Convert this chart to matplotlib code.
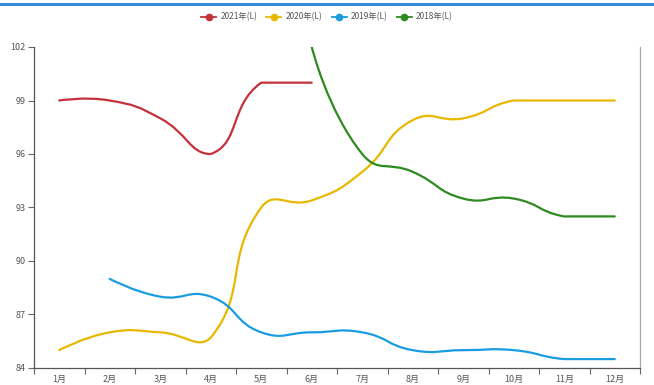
import numpy as np
import matplotlib
matplotlib.use('Agg')
import matplotlib.pyplot as plt
from matplotlib.path import Path
from matplotlib.patches import PathPatch, Rectangle
from matplotlib.lines import Line2D

plt.rcParams['font.family'] = ['Noto Sans CJK SC', 'DejaVu Sans']

months = ['1月', '2月', '3月', '4月', '5月', '6月', '7月', '8月', '9月', '10月', '11月', '12月']
nan = np.nan
y2021 = [99, 99, 98, 96, 100, 100, nan, nan, nan, nan, nan, nan]
y2020 = [85, 86, 86, 85.7, 93.0, 93.4, 95, 97.9, 98, 99, 99, 99]
y2019 = [nan, 89, 88, 88, 86, 86, 86, 85, 85, 85, 84.5, 84.5]
y2018 = [nan, nan, nan, nan, nan, 102, 96, 95, 93.5, 93.5, 92.5, 92.5]

names = ['2021年(L)', '2020年(L)', '2019年(L)', '2018年(L)']
colors = ['#c4313a', '#e8b800', '#1a9de0', '#2e8b1f']
yticks = [84, 87, 90, 93, 96, 99, 102]


def smooth_path(ax, xs, ys, smooth=0.5):
    # bezier smoothing in pixel space; control points kept inside the
    # bounding box of the series so flat ends stay flat
    pts = ax.transData.transform(np.column_stack([xs, ys]))
    lo = pts.min(axis=0)
    hi = pts.max(axis=0)
    n = len(pts)
    verts = [pts[0]]
    codes = [Path.MOVETO]
    out_cp = pts[0].copy()
    for i in range(1, n):
        cur = pts[i]
        prev = pts[i - 1]
        if i == n - 1:
            in_cp = cur.copy()
            v = np.zeros(2)
            r = 0.5
        else:
            nxt = pts[i + 1]
            v = nxt - prev
            l0 = np.hypot(*(cur - prev))
            l1 = np.hypot(*(nxt - cur))
            r = l1 / (l0 + l1) if (l0 + l1) > 0 else 0.5
            in_cp = cur - v * smooth * (1 - r)
        out_cp = np.clip(out_cp, lo, hi)
        in_cp = np.clip(in_cp, lo, hi)
        verts += [out_cp, in_cp, cur]
        codes += [Path.CURVE4] * 3
        out_cp = cur + v * smooth * r
    verts = ax.transData.inverted().transform(np.array(verts))
    return Path(verts, codes)


fig = plt.figure(figsize=(6.54, 3.85), dpi=100)
ax = fig.add_axes([34 / 654, 17 / 385, 606 / 654, 321 / 385])
ax.set_xlim(-0.5, 11.5)
ax.set_ylim(84, 102)

for vals, c in zip([y2021, y2020, y2019, y2018], colors):
    arr = np.array(vals, dtype=float)
    idx = np.where(~np.isnan(arr))[0]
    p = smooth_path(ax, idx.astype(float), arr[idx])
    ax.add_patch(PathPatch(p, facecolor='none', edgecolor=c, lw=1.6,
                           capstyle='round', joinstyle='round'))

ax.set_yticks(yticks)
ax.set_yticklabels([str(v) for v in yticks])
ax.set_xticks(np.arange(-0.5, 12, 1))
ax.set_xticklabels([])
ax.set_xticks(np.arange(12), minor=True)
ax.set_xticklabels(months, minor=True)
ax.tick_params(axis='x', which='minor', length=0, pad=5)
ax.tick_params(axis='x', which='major', length=4, color='#666666')
ax.tick_params(axis='y', length=4, color='#666666', pad=2)
ax.tick_params(labelsize=6.5, labelcolor='#555555', which='both')

ax.spines['top'].set_visible(False)
ax.spines['left'].set_color('#555555')
ax.spines['bottom'].set_color('#555555')
ax.spines['right'].set_color('#aaaaaa')
for s in ax.spines.values():
    s.set_linewidth(0.9)

# thin blue band along the top edge
fig.add_artist(Rectangle((0, 1 - 6 / 385), 1, 3 / 385, transform=fig.transFigure,
                         color='#3b8ad9', lw=0))

handles = [Line2D([], [], color=c, lw=1.3, marker='o', markersize=4.5) for c in colors]
fig.legend(handles, names, loc='center', bbox_to_anchor=(0.5, 1 - 17 / 385), ncol=4,
           frameon=False, fontsize=6, handlelength=1.8, handletextpad=0.5,
           columnspacing=1.1, labelcolor='#555555')

fig.savefig('out.png', dpi=100)
